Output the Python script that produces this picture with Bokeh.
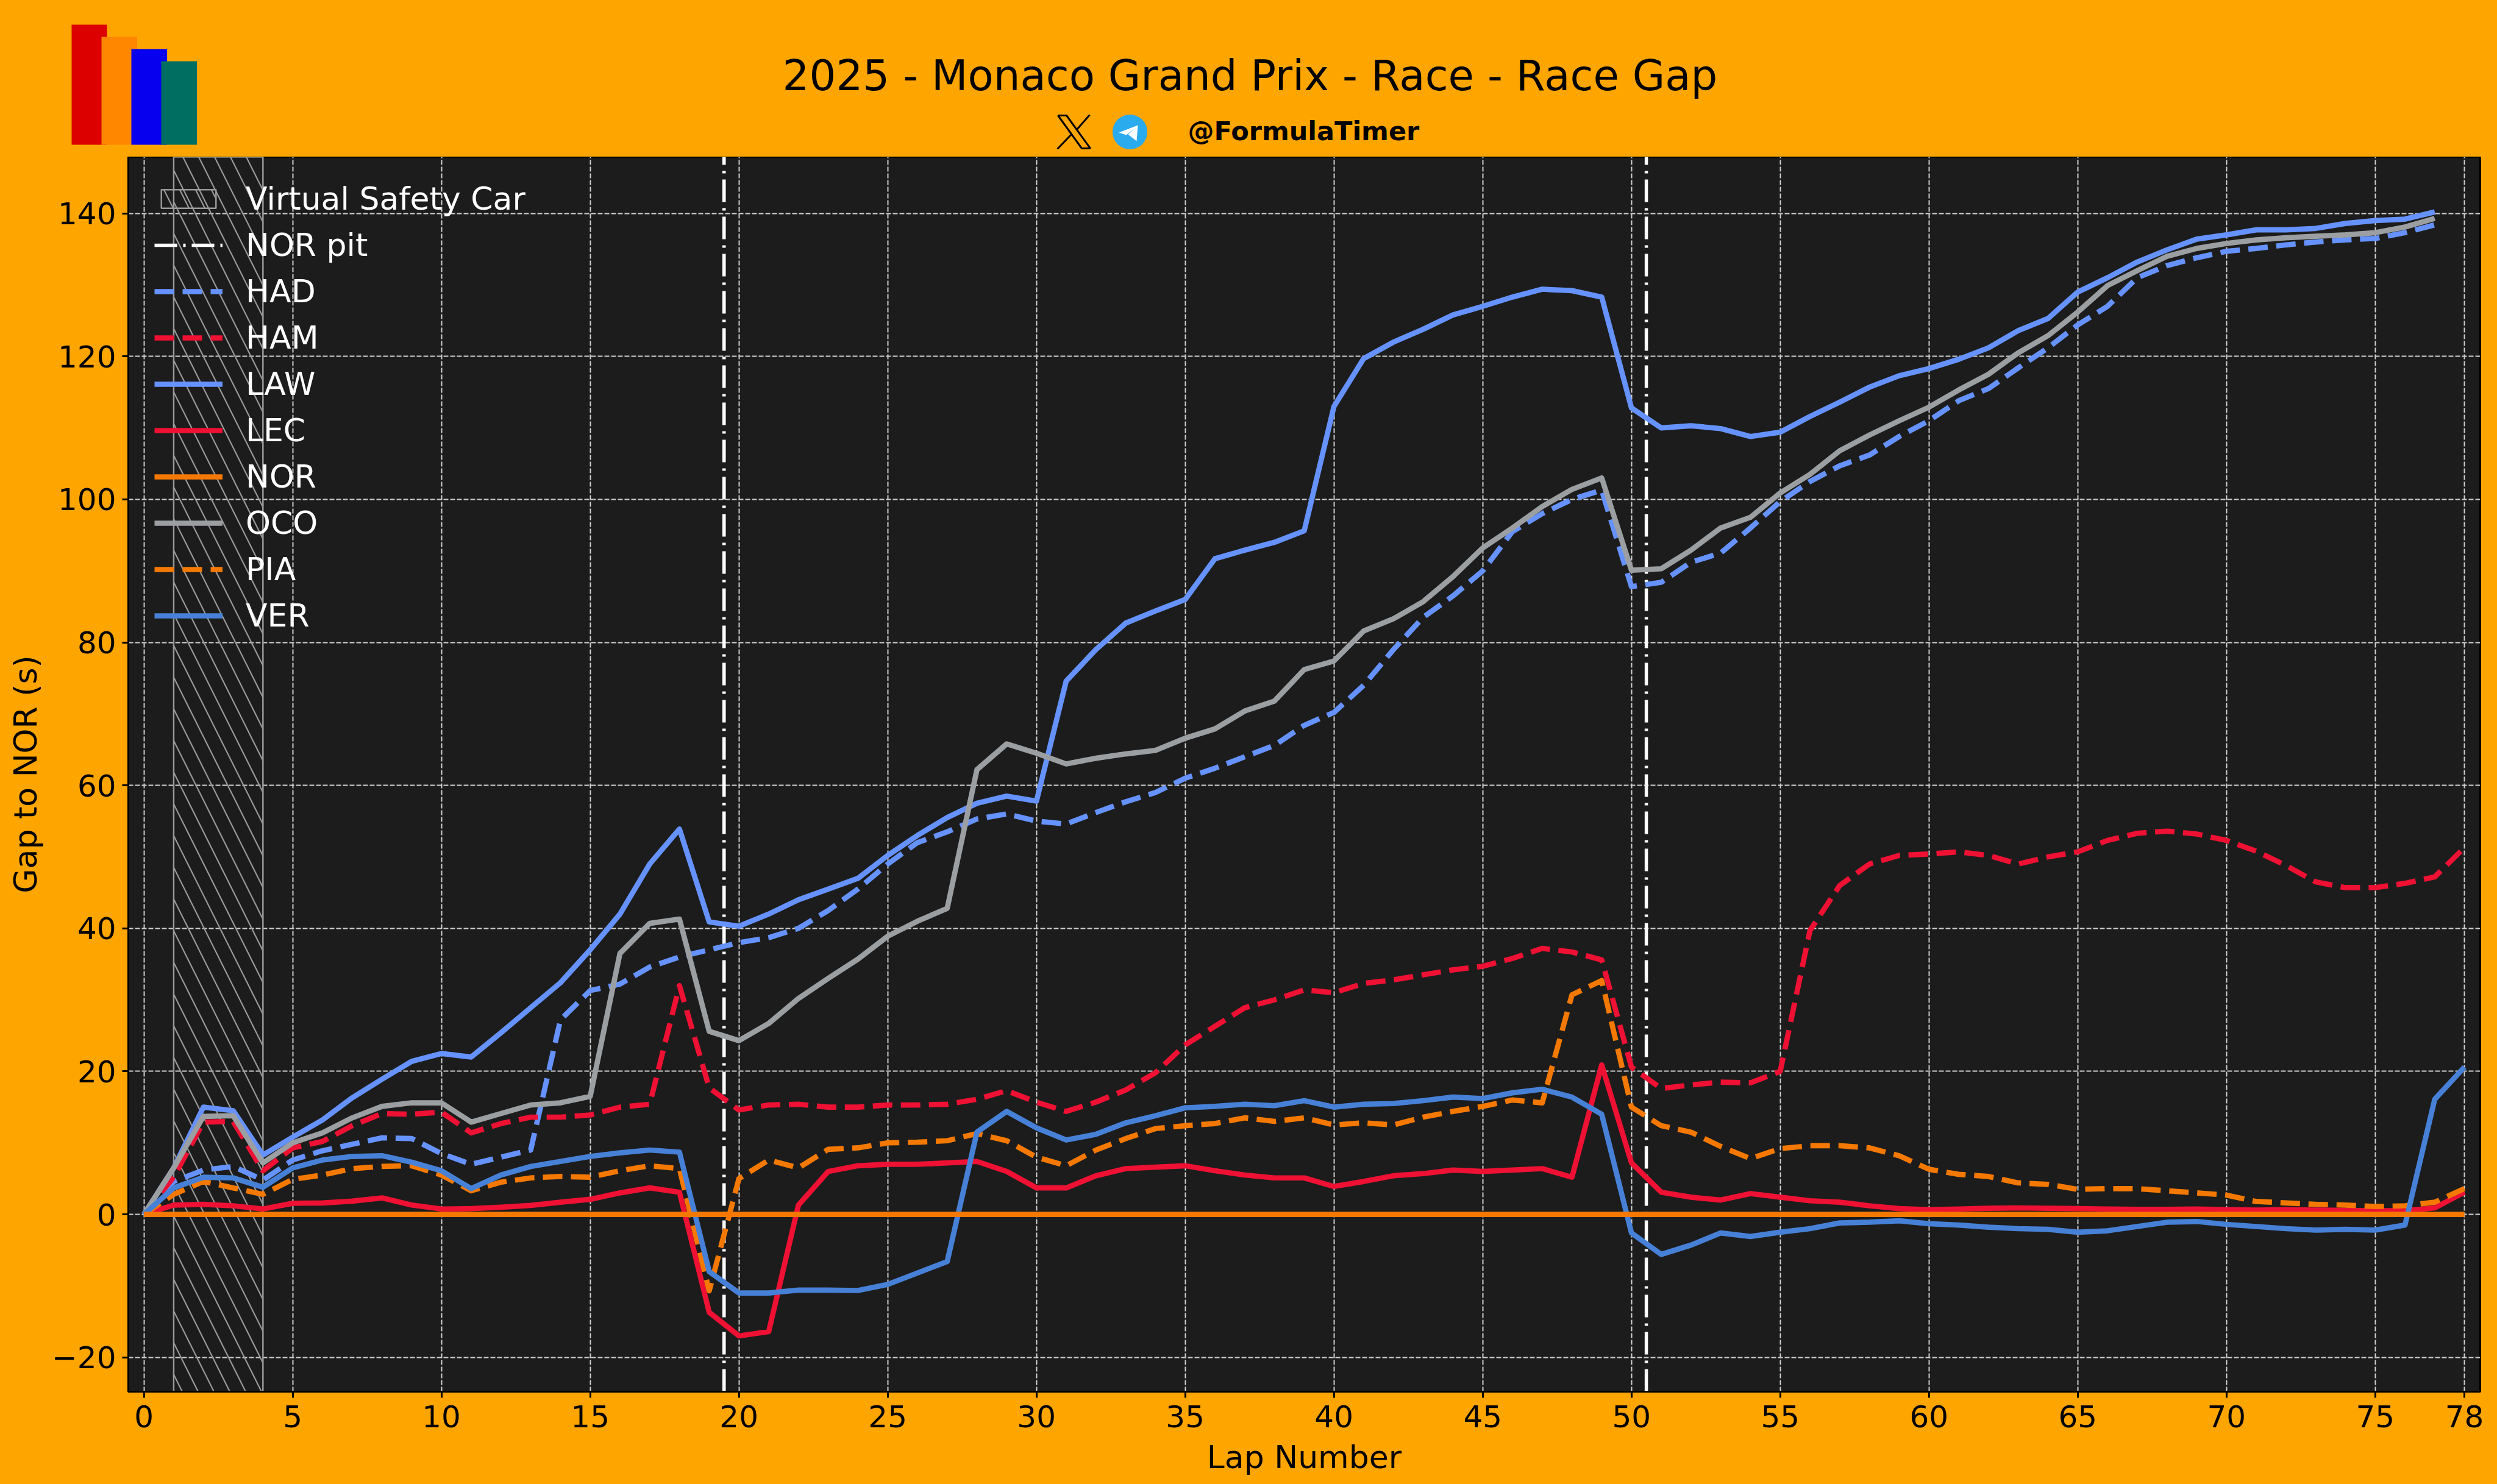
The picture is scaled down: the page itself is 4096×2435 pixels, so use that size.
from bokeh.plotting import figure
from bokeh.layouts import column
from bokeh.embed import file_html
from bokeh.resources import INLINE
from bokeh.core.properties import value
from bokeh.models import Range1d, Legend, LegendItem, FixedTicker

laps = list(range(79))
HAD = [0,4.6,6.2,6.7,4.8,7.6,8.9,9.8,10.7,10.6,8.5,7,8,9,27.2,31.3,32.2,34.6,36,37,38,38.7,40,42.5,45.5,49,52,53.5,55.3,56,55,54.6,56.2,57.7,59,61,62.4,64,65.6,68.4,70.2,74,79,83.5,86.5,90,95.5,98,100,101.3,87.8,88.4,91.2,92.5,96,99.7,102.5,104.7,106.2,108.8,111,113.8,115.5,118.4,121.2,124.4,127,131,132.7,133.8,134.7,135.1,135.6,136,136.3,136.5,137.3,138.4]
HAM = [0,5.2,12.9,13,6.1,9.3,10.2,12.4,14.1,14,14.3,11.4,12.7,13.6,13.6,13.9,15,15.4,32,17.7,14.6,15.3,15.4,15,15,15.3,15.3,15.4,16.1,17.3,15.7,14.4,15.7,17.4,19.8,23.7,26.3,28.9,30,31.4,31,32.3,32.8,33.5,34.2,34.7,35.8,37.2,36.7,35.6,20.6,17.6,18.1,18.5,18.4,20,39.7,46,49,50.2,50.4,50.7,50.2,49,50,50.7,52.3,53.3,53.6,53.2,52.3,50.8,48.8,46.5,45.7,45.7,46.3,47.2,51.3]
LAW = [0,6.5,15,14.5,8.3,10.8,13.2,16.3,18.9,21.4,22.5,22,25.4,28.9,32.4,37,42,49,53.9,40.9,40.3,42,44,45.5,47,50.2,53,55.5,57.5,58.5,57.8,74.6,79,82.7,84.4,86,91.7,92.9,94,95.6,113,119.7,122,123.8,125.8,127,128.3,129.4,129.2,128.3,112.8,110,110.3,109.9,108.8,109.4,111.6,113.6,115.7,117.3,118.3,119.6,121.2,123.6,125.3,129,131,133.2,134.9,136.4,137,137.7,137.7,137.9,138.6,139,139.2,140.2]
LEC = [0,1.3,1.4,1.2,0.75,1.55,1.6,1.85,2.3,1.3,0.75,0.8,1,1.25,1.7,2.1,3,3.7,3.1,-13.7,-17,-16.4,1.3,6,6.8,7,7,7.2,7.4,6,3.7,3.7,5.4,6.4,6.6,6.8,6.1,5.5,5.1,5.1,3.9,4.6,5.4,5.7,6.2,6,6.2,6.4,5.2,20.9,7.2,3.1,2.4,2,2.9,2.4,1.9,1.7,1.2,0.8,0.65,0.75,0.85,0.9,0.85,0.8,0.75,0.7,0.7,0.75,0.65,0.6,0.65,0.6,0.55,0.5,0.5,0.9,3.1]
NOR = [0]*79
OCO = [0,6.5,13.7,13.8,7.2,10,11.4,13.5,15.1,15.6,15.6,12.9,14.1,15.3,15.6,16.5,36.5,40.7,41.3,25.6,24.3,26.7,30.2,33,35.7,38.9,41,42.8,62.2,65.8,64.5,63,63.8,64.4,64.9,66.6,67.9,70.4,71.8,76.2,77.4,81.6,83.3,85.7,89.2,93.2,96,99,101.4,103,90.1,90.3,92.9,96,97.5,100.9,103.5,106.8,109,111,112.9,115.3,117.5,120.5,122.9,126.2,129.9,132,134,135.1,135.8,136.3,136.6,136.8,137,137.3,138.1,139.3]
PIA = [0,2.8,4.6,3.7,2.8,4.9,5.5,6.4,6.7,6.8,5.5,3.3,4.5,5.1,5.3,5.2,6.1,6.8,6.4,-10.7,5,7.6,6.5,9.1,9.3,10,10.1,10.3,11.3,10.3,8,6.8,9,10.6,12,12.4,12.7,13.5,13,13.5,12.5,12.8,12.5,13.6,14.4,15.1,16,15.6,30.7,32.7,15,12.4,11.5,9.5,7.8,9.2,9.6,9.6,9.3,8.2,6.3,5.6,5.3,4.4,4.2,3.5,3.6,3.6,3.3,3,2.7,1.8,1.6,1.4,1.3,1.1,1.2,1.7,3.6]
VER = [0,3.7,5.2,5.1,3.8,6.5,7.6,8.1,8.2,7.3,6.1,3.6,5.5,6.7,7.4,8.1,8.6,9,8.7,-8,-11,-11,-10.6,-10.6,-10.65,-9.8,-8.2,-6.6,11.5,14.4,12.1,10.4,11.2,12.8,13.8,14.9,15.1,15.4,15.2,15.9,15,15.4,15.5,15.9,16.4,16.2,17,17.5,16.4,14,-2.6,-5.6,-4.3,-2.6,-3.1,-2.5,-2,-1.2,-1.1,-0.9,-1.3,-1.5,-1.8,-2,-2.1,-2.5,-2.3,-1.7,-1.1,-1,-1.4,-1.7,-2,-2.2,-2.1,-2.2,-1.5,16.1,20.6]

pit_laps = [19.5, 50.5]
vsc_start = [1]
vsc_end = [4]
x_ticks = [0,5,10,15,20,25,30,35,40,45,50,55,60,65,70,75,78]
y_ticks = [-20,0,20,40,60,80,100,120,140]
title_text = "2025 - Monaco Grand Prix - Race - Race Gap"
handle_text = "@FormulaTimer"
x_label = "Lap Number"
y_label = "Gap to NOR (s)"

ORANGE_BG = "#FFA500"
DARK = "#1C1C1C"
BLUE_L = "#6692FF"
RED = "#EE1133"
ORANGE = "#F57900"
GREY = "#9C9FA2"
BLUE_V = "#4781D7"
FONT = "DejaVu Sans"
W, H, HEADER = 4096, 2435, 257

# ---- header strip, in pixel coordinates of the page
hd = figure(width=W, height=HEADER, output_backend="svg", toolbar_location=None,
            x_range=Range1d(0, W), y_range=Range1d(HEADER, 0),
            x_axis_location=None, y_axis_location=None,
            background_fill_color=ORANGE_BG, border_fill_color=ORANGE_BG,
            min_border=0, outline_line_color=None, frame_align=False)
hd.grid.visible = False

logo_left = [117, 166, 215, 264]
logo_right = [175, 224.5, 273.6, 322.6]
logo_top = [40, 60, 80, 100]
logo_color = ["#DC0000", "#FF8700", "#0600EF", "#006F62"]
hd.quad(left=logo_left, right=logo_right, top=logo_top, bottom=[237]*4, fill_color=logo_color, line_color=None)

hd.text(x=[2050], y=[123], text=[title_text], text_font=value(FONT), text_font_size="69px", text_color="black",
        text_align="center", text_baseline="alphabetic")
hd.text(x=[1948], y=[214], text=[handle_text], text_font=value(FONT), text_font_size="43px", text_font_style="bold",
        text_color="black", text_align="left", text_baseline="alphabetic")

# X icon, drawn as outline shapes like the logo in the reference
hd.patch(x=[1735, 1749, 1788, 1774], y=[189, 189, 243, 243], fill_alpha=0, line_color="black", line_width=3)
hd.segment(x0=[1787, 1757], y0=[188, 220], x1=[1766, 1734], y1=[212, 244], line_color="black", line_width=3)
# Telegram icon
hd.scatter(x=[1853], y=[216], size=57, marker="circle", fill_color="#2AABEE", line_color=None)
hd.patch(x=[1835, 1866, 1864, 1850, 1861, 1847], y=[217, 205, 231, 220, 210, 221], fill_color="white", line_color=None)

# ---- main chart
XMIN, XMAX = -0.525, 78.53
YMIN, YMAX = -24.8, 147.9

p = figure(width=W, height=H-HEADER, output_backend="svg", toolbar_location=None,
           x_range=Range1d(XMIN, XMAX), y_range=Range1d(YMIN, YMAX),
           background_fill_color=DARK, border_fill_color=ORANGE_BG,
           min_border_left=210, min_border_right=28, min_border_top=0, min_border_bottom=152, frame_align=False)

p.outline_line_color = "black"
p.outline_line_width = 3

for ax in (p.xaxis[0], p.yaxis[0]):
    ax.axis_line_color = "black"
    ax.axis_line_width = 3
    ax.major_tick_line_color = "black"
    ax.major_tick_line_width = 3
    ax.major_tick_out = 10
    ax.major_tick_in = 0
    ax.minor_tick_line_color = None
    ax.major_label_text_font = FONT
    ax.major_label_text_font_size = "50px"
    ax.major_label_text_color = "black"
    ax.axis_label_text_font = FONT
    ax.axis_label_text_font_size = "52px"
    ax.axis_label_text_font_style = "normal"
    ax.axis_label_text_color = "black"

p.xaxis[0].ticker = FixedTicker(ticks=x_ticks)
p.yaxis[0].ticker = FixedTicker(ticks=y_ticks)
p.yaxis[0].major_label_overrides = {t: (str(t).replace("-", "\u2212")) for t in y_ticks}
p.xaxis[0].major_label_standoff = 12
p.yaxis[0].major_label_standoff = 10
p.xaxis[0].axis_label = x_label
p.yaxis[0].axis_label = y_label
p.xaxis[0].axis_label_standoff = 16
p.yaxis[0].axis_label_standoff = 10

for g in (p.xgrid[0], p.ygrid[0]):
    g.grid_line_color = "#D0D0D0"
    g.grid_line_width = 2
    g.grid_line_dash = "8 3"
p.xgrid[0].ticker = FixedTicker(ticks=x_ticks)
p.ygrid[0].ticker = FixedTicker(ticks=y_ticks)

vsc = p.quad(left=vsc_start, right=vsc_end, bottom=[YMIN], top=[YMAX],
             fill_alpha=0, line_color="#999999", line_width=2.5,
             hatch_pattern="left_diagonal_line", hatch_color="#999999", hatch_weight=2.2, hatch_scale=52)
pit = p.segment(x0=pit_laps, y0=[YMIN]*2, x1=pit_laps, y1=[YMAX]*2, line_color="white",
                line_width=5.5, line_dash="37 10 4 10")

DASH = "32 14"
LW = 8.7
def draw(y, color, dash="solid"):
    n = len(y)
    return p.line(laps[:n], y, line_color=color, line_width=LW, line_dash=dash, line_join="round")

r_had = draw(HAD, BLUE_L, DASH)
r_ham = draw(HAM, RED, DASH)
r_law = draw(LAW, BLUE_L)
r_lec = draw(LEC, RED)
r_oco = draw(OCO, GREY)
r_pia = draw(PIA, ORANGE, DASH)
r_ver = draw(VER, BLUE_V)
r_nor = draw(NOR, ORANGE)

items = [("Virtual Safety Car", vsc), ("NOR pit", pit), ("HAD", r_had), ("HAM", r_ham), ("LAW", r_law),
         ("LEC", r_lec), ("NOR", r_nor), ("OCO", r_oco), ("PIA", r_pia), ("VER", r_ver)]
legend = Legend(items=[LegendItem(label=a, renderers=[b]) for a, b in items],
                location=(43, 1243), padding=0, margin=0, spacing=16,
                glyph_width=112, glyph_height=38, label_height=38, label_standoff=38,
                label_text_font=FONT, label_text_font_size="52px", label_text_color="white",
                background_fill_alpha=0, border_line_color=None)
p.add_layout(legend)

html = file_html(column(hd, p, spacing=0), INLINE)
html = html.replace("</head>", "<style>body{background:#FFA500}</style></head>")
open("out.html", "w").write(html)
